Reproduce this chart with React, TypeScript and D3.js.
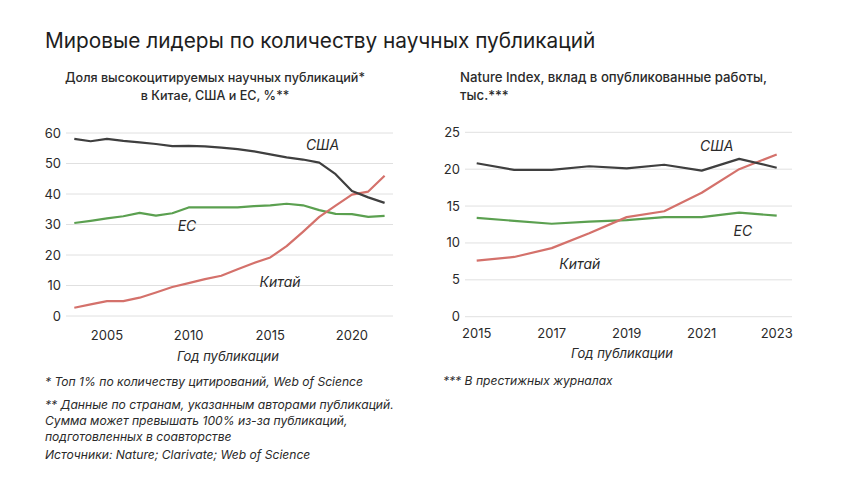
import React from "react";
import * as d3 from "d3";

const leftYears = d3.range(2003, 2023);
const leftUSA = [58.1, 57.3, 58.1, 57.4, 56.9, 56.4, 55.7, 55.8, 55.6, 55.2, 54.7, 54.0, 53.0, 52.0, 51.3, 50.3, 46.5, 41.0, 38.9, 37.1];
const leftEU = [30.5, 31.2, 32.0, 32.7, 33.8, 32.9, 33.7, 35.6, 35.6, 35.6, 35.6, 36.0, 36.3, 36.8, 36.3, 34.7, 33.5, 33.4, 32.5, 32.8];
const leftChina = [2.7, 3.8, 4.9, 4.9, 6.0, 7.7, 9.5, 10.8, 12.1, 13.2, 15.3, 17.4, 19.2, 22.9, 27.6, 32.5, 36.2, 39.8, 40.8, 46.0];
const leftYTicks = [0, 10, 20, 30, 40, 50, 60];
const leftXTicks = [2005, 2010, 2015, 2020];

const rightYears = d3.range(2015, 2024);
const rightUSA = [20.8, 19.9, 19.9, 20.4, 20.1, 20.6, 19.8, 21.4, 20.2];
const rightEU = [13.4, 13.0, 12.6, 12.9, 13.1, 13.5, 13.5, 14.1, 13.7];
const rightChina = [7.6, 8.1, 9.3, 11.3, 13.5, 14.3, 16.8, 20.0, 22.0];
const rightYTicks = [0, 5, 10, 15, 20, 25];
const rightXTicks = [2015, 2017, 2019, 2021, 2023];

const title = "Мировые лидеры по количеству научных публикаций";
const leftSubtitle = ["Доля высокоцитируемых научных публикаций*", "в Китае, США и ЕС, %**"];
const rightSubtitle = ["Nature Index, вклад в опубликованные работы,", "тыс.***"];
const xAxisTitle = "Год публикации";
const leftNotes = [
  "* Топ 1% по количеству цитирований, Web of Science",
];
const leftNotes2 = [
  "** Данные по странам, указанным авторами публикаций.",
  "Сумма может превышать 100% из-за публикаций,",
  "подготовленных в соавторстве",
];
const sourceNote = "Источники: Nature; Clarivate; Web of Science";
const rightNote = "*** В престижных журналах";

const leftLabels = [
  { name: "США", year: 2018.2, value: 54.3 },
  { name: "ЕС", year: 2009.9, value: 27.8 },
  { name: "Китай", year: 2015.6, value: 9.6 },
];
const rightLabels = [
  { name: "США", year: 2021.4, value: 22.4 },
  { name: "ЕС", year: 2022.1, value: 10.9 },
  { name: "Китай", year: 2017.75, value: 6.5 },
];

const COLORS = { usa: "#3f3f3f", eu: "#5ba050", china: "#d4716b" };
const FONT = "Inter, 'Open Sans', sans-serif";
const GRID = "#e0e0e0";
const TEXT = "#2a2a2a";

type PanelProps = {
  years: number[];
  usa: number[];
  eu: number[];
  china: number[];
  yTicks: number[];
  xTicks: number[];
  xRange: [number, number];
  yRange: [number, number];
  yMax: number;
  gridRange: [number, number];
  labels: { name: string; year: number; value: number }[];
  xLabelY: number;
  axisTitleX: number;
  axisTitleY: number;
};

function Panel(p: PanelProps) {
  const x = d3.scaleLinear().domain([p.years[0], p.years[p.years.length - 1]]).range(p.xRange);
  const y = d3.scaleLinear().domain([0, p.yMax]).range(p.yRange);
  const line = d3
    .line<number>()
    .x((_, i) => x(p.years[i]))
    .y((d) => y(d));
  const series = [
    { data: p.eu, color: COLORS.eu },
    { data: p.china, color: COLORS.china },
    { data: p.usa, color: COLORS.usa },
  ];
  return (
    <g>
      {p.yTicks.map((t) => (
        <g key={t}>
          <line x1={p.gridRange[0]} x2={p.gridRange[1]} y1={y(t)} y2={y(t)} stroke={GRID} strokeWidth={1} />
          <text x={p.gridRange[0] - 5} y={y(t)} dy="0.35em" textAnchor="end" fontSize={13} fill={TEXT} fontFamily={FONT}>
            {t}
          </text>
        </g>
      ))}
      {p.xTicks.map((t) => (
        <text key={t} x={x(t)} y={p.xLabelY} textAnchor="middle" fontSize={13} fill={TEXT} fontFamily={FONT}>
          {t}
        </text>
      ))}
      <text x={p.axisTitleX} y={p.axisTitleY} textAnchor="middle" fontSize={13} fontStyle="italic" fill={TEXT} fontFamily={FONT}>
        {xAxisTitle}
      </text>
      {series.map((s, i) => (
        <path key={i} d={line(s.data) || ""} fill="none" stroke={s.color} strokeWidth={2.2} strokeLinejoin="round" />
      ))}
      {p.labels.map((l) => (
        <text key={l.name} x={x(l.year)} y={y(l.value)} textAnchor="middle" fontSize={14} fontStyle="italic" fill={TEXT} fontFamily={FONT}>
          {l.name}
        </text>
      ))}
    </g>
  );
}

export default function App() {
  return (
    <svg width={860} height={484} style={{ position: "absolute", left: 0, top: 0, background: "#fff" }}>
      <rect width={860} height={484} fill="#fff" />
      <text x={45} y={48} fontSize={20.8} fill="#1e1e1e" fontFamily={FONT}>
        {title}
      </text>
      {leftSubtitle.map((s, i) => (
        <text key={i} x={215} y={82 + i * 18} textAnchor="middle" fontSize={12.6} fontWeight={500} fill={TEXT} fontFamily={FONT}>
          {s}
        </text>
      ))}
      {rightSubtitle.map((s, i) => (
        <text key={i} x={460} y={82 + i * 18} fontSize={13.2} fontWeight={500} fill={TEXT} fontFamily={FONT}>
          {s}
        </text>
      ))}
      <Panel
        years={leftYears}
        usa={leftUSA}
        eu={leftEU}
        china={leftChina}
        yTicks={leftYTicks}
        xTicks={leftXTicks}
        xRange={[74.3, 384.6]}
        yRange={[316, 133]}
        yMax={60}
        gridRange={[66, 393]}
        labels={leftLabels}
        xLabelY={340}
        axisTitleX={228}
        axisTitleY={361}
      />
      <Panel
        years={rightYears}
        usa={rightUSA}
        eu={rightEU}
        china={rightChina}
        yTicks={rightYTicks}
        xTicks={rightXTicks}
        xRange={[476.7, 776.7]}
        yRange={[316.7, 132.3]}
        yMax={25}
        gridRange={[465, 792]}
        labels={rightLabels}
        xLabelY={338}
        axisTitleX={622}
        axisTitleY={358}
      />
      {leftNotes.map((s, i) => (
        <text key={i} x={45} y={386} fontSize={12.1} fontStyle="italic" fill={TEXT} fontFamily={FONT}>
          {s}
        </text>
      ))}
      {leftNotes2.map((s, i) => (
        <text key={i} x={45} y={409 + i * 16} fontSize={12.1} fontStyle="italic" fill={TEXT} fontFamily={FONT}>
          {s}
        </text>
      ))}
      <text x={45} y={459} fontSize={12.1} fontStyle="italic" fill={TEXT} fontFamily={FONT}>
        {sourceNote}
      </text>
      <text x={443} y={385} fontSize={12.1} fontStyle="italic" fill={TEXT} fontFamily={FONT}>
        {rightNote}
      </text>
    </svg>
  );
}
